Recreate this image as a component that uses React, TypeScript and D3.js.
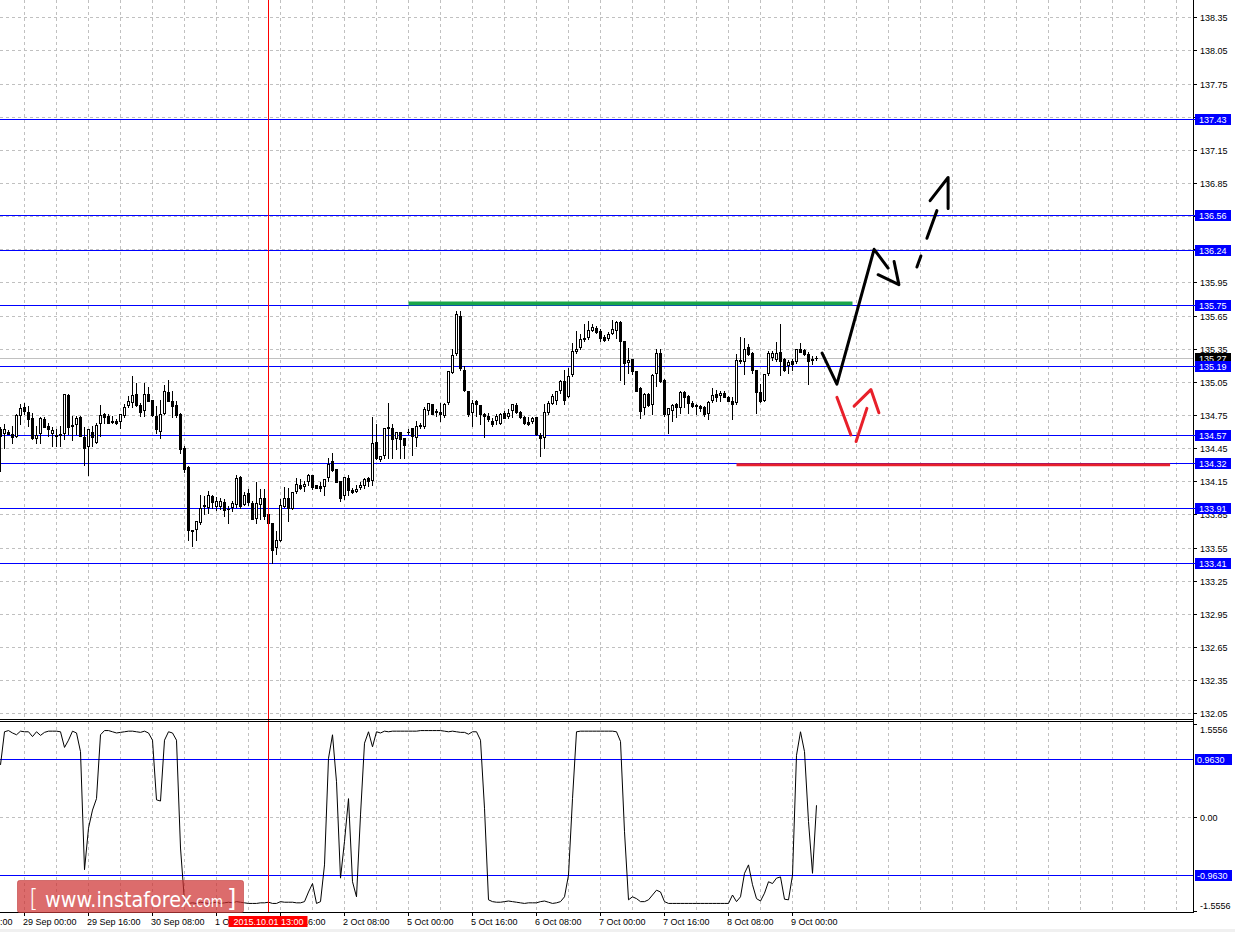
import React from 'react';
import * as d3 from 'd3';

// ---------- DATA (USDJPY-like H1 bars) ----------
const OPEN = [
  134.62, 134.58, 134.60, 134.58, 134.55, 134.74, 134.82, 134.78, 134.72, 134.53,
  134.58, 134.71, 134.65, 134.58, 134.57, 134.57, 134.58, 134.93, 134.66, 134.66,
  134.73, 134.55, 134.46, 134.60, 134.50, 134.67, 134.76, 134.74, 134.70, 134.70,
  134.69, 134.74, 134.83, 134.86, 134.94, 134.84, 134.79, 134.94, 134.89, 134.74,
  134.60, 134.76, 134.96, 134.88, 134.84, 134.76, 134.45, 134.28, 133.71, 133.71,
  133.77, 133.92, 133.91, 134.02, 133.92, 133.92, 133.96, 133.90, 133.91, 133.94,
  134.19, 133.94, 134.04, 133.95, 133.81, 133.94, 134.00, 133.85, 133.77, 133.55,
  133.61, 133.92, 134.00, 133.90, 134.05, 134.12, 134.10, 134.14, 134.21, 134.12,
  134.11, 134.10, 134.18, 134.33, 134.26, 134.15, 134.02, 134.18, 134.07, 134.05,
  134.09, 134.11, 134.18, 134.15, 134.51, 134.34, 134.38, 134.64, 134.63, 134.53,
  134.60, 134.54, 134.60, 134.63, 134.54, 134.64, 134.64, 134.79, 134.85, 134.77,
  134.78, 134.74, 134.86, 135.13, 135.30, 135.65, 135.16, 134.97, 134.77, 134.88,
  134.84, 134.76, 134.74, 134.70, 134.70, 134.67, 134.77, 134.73, 134.79, 134.84,
  134.78, 134.73, 134.69, 134.69, 134.73, 134.57, 134.54, 134.77, 134.85, 134.88,
  134.97, 135.06, 134.91, 135.11, 135.32, 135.36, 135.43, 135.45, 135.51, 135.54,
  135.51, 135.46, 135.44, 135.48, 135.51, 135.59, 135.42, 135.22, 135.26, 135.15,
  134.99, 134.81, 134.94, 134.84, 135.12, 135.31, 135.07, 134.75, 134.79, 134.85,
  134.81, 134.96, 134.92, 134.86, 134.82, 134.83, 134.82, 134.76, 134.88, 134.94,
  134.92, 134.95, 134.91, 134.88, 134.86, 135.24, 135.23, 135.37, 135.31, 135.16,
  134.96, 134.88, 135.12, 135.27, 135.25, 135.32, 135.26, 135.19, 135.24, 135.23,
  135.35, 135.34, 135.30, 135.25, 135.27,
];
const HIGH = [
  134.64, 134.67, 134.61, 134.65, 134.76, 134.85, 134.86, 134.83, 134.77, 134.65,
  134.73, 134.73, 134.68, 134.64, 134.62, 134.65, 134.94, 134.94, 134.74, 134.74,
  134.74, 134.64, 134.62, 134.65, 134.68, 134.84, 134.77, 134.76, 134.74, 134.71,
  134.76, 134.85, 134.92, 135.10, 135.04, 134.86, 135.04, 135.00, 134.89, 134.83,
  134.89, 135.02, 135.07, 134.97, 134.88, 134.77, 134.47, 134.29, 133.71, 133.79,
  134.03, 134.02, 134.06, 134.03, 134.01, 134.00, 133.99, 133.93, 133.97, 134.21,
  134.20, 134.05, 134.08, 133.97, 134.14, 134.08, 134.08, 133.86, 133.77, 133.70,
  133.99, 134.10, 134.09, 134.05, 134.18, 134.17, 134.15, 134.22, 134.21, 134.12,
  134.14, 134.17, 134.36, 134.41, 134.26, 134.15, 134.19, 134.21, 134.09, 134.12,
  134.14, 134.18, 134.19, 134.73, 134.67, 134.38, 134.63, 134.86, 134.67, 134.60,
  134.60, 134.54, 134.62, 134.63, 134.70, 134.68, 134.82, 134.86, 134.85, 134.80,
  134.86, 134.86, 135.15, 135.35, 135.69, 135.69, 135.19, 134.97, 134.89, 134.89,
  134.84, 134.77, 134.77, 134.72, 134.76, 134.77, 134.79, 134.80, 134.85, 134.86,
  134.79, 134.74, 134.73, 134.73, 134.73, 134.59, 134.85, 134.88, 134.94, 134.97,
  135.07, 135.16, 135.18, 135.40, 135.51, 135.48, 135.57, 135.60, 135.57, 135.56,
  135.53, 135.47, 135.50, 135.61, 135.60, 135.60, 135.42, 135.36, 135.26, 135.15,
  135.00, 134.95, 134.95, 135.12, 135.35, 135.35, 135.08, 134.81, 134.85, 134.86,
  134.97, 134.97, 134.93, 134.88, 134.85, 134.84, 134.83, 134.88, 134.99, 134.98,
  134.97, 134.97, 134.92, 134.91, 135.30, 135.46, 135.45, 135.39, 135.32, 135.16,
  135.03, 135.12, 135.33, 135.33, 135.41, 135.57, 135.27, 135.25, 135.26, 135.35,
  135.40, 135.35, 135.32, 135.28, 135.28,
];
const LOW = [
  134.24, 134.45, 134.58, 134.50, 134.55, 134.67, 134.76, 134.65, 134.53, 134.50,
  134.50, 134.64, 134.56, 134.47, 134.47, 134.47, 134.53, 134.58, 134.52, 134.58,
  134.56, 134.30, 134.21, 134.47, 134.50, 134.56, 134.68, 134.68, 134.68, 134.67,
  134.63, 134.73, 134.82, 134.82, 134.83, 134.74, 134.74, 134.88, 134.74, 134.59,
  134.54, 134.76, 134.88, 134.73, 134.73, 134.41, 134.23, 133.62, 133.56, 133.62,
  133.76, 133.85, 133.86, 133.91, 133.89, 133.90, 133.84, 133.77, 133.88, 133.92,
  133.91, 133.94, 133.94, 133.81, 133.77, 133.81, 133.81, 133.77, 133.41, 133.49,
  133.61, 133.92, 133.79, 133.90, 134.04, 134.08, 134.06, 134.12, 134.08, 134.09,
  134.06, 134.03, 134.15, 134.24, 134.14, 133.97, 133.99, 134.03, 134.04, 134.05,
  134.08, 134.09, 134.11, 134.12, 134.35, 134.33, 134.36, 134.36, 134.36, 134.44,
  134.36, 134.36, 134.58, 134.39, 134.47, 134.63, 134.63, 134.76, 134.76, 134.74,
  134.70, 134.73, 134.85, 135.13, 135.29, 135.16, 134.97, 134.74, 134.65, 134.74,
  134.67, 134.55, 134.70, 134.65, 134.67, 134.67, 134.72, 134.72, 134.73, 134.77,
  134.72, 134.67, 134.66, 134.68, 134.57, 134.38, 134.45, 134.76, 134.85, 134.85,
  134.95, 134.85, 134.91, 135.10, 135.31, 135.35, 135.42, 135.44, 135.51, 135.49,
  135.42, 135.42, 135.43, 135.48, 135.45, 135.07, 135.03, 135.13, 135.12, 134.97,
  134.72, 134.76, 134.83, 134.76, 135.01, 135.05, 134.74, 134.59, 134.70, 134.73,
  134.77, 134.82, 134.77, 134.82, 134.76, 134.79, 134.74, 134.71, 134.87, 134.88,
  134.88, 134.91, 134.88, 134.71, 134.85, 135.22, 135.12, 135.29, 135.13, 134.77,
  134.87, 134.88, 135.11, 135.25, 135.24, 135.11, 135.15, 135.13, 135.16, 135.22,
  135.32, 135.29, 135.03, 135.21, 135.25,
];
const CLOSE = [
  134.56, 134.62, 134.58, 134.55, 134.75, 134.81, 134.79, 134.71, 134.54, 134.57,
  134.72, 134.64, 134.62, 134.61, 134.56, 134.58, 134.94, 134.64, 134.65, 134.72,
  134.56, 134.45, 134.62, 134.55, 134.66, 134.75, 134.73, 134.68, 134.69, 134.68,
  134.76, 134.82, 134.88, 134.93, 134.84, 134.78, 134.94, 134.88, 134.75, 134.62,
  134.76, 134.97, 134.88, 134.83, 134.75, 134.44, 134.26, 133.71, 133.70, 133.79,
  133.91, 133.94, 134.03, 133.96, 133.97, 133.97, 133.89, 133.90, 133.95, 134.18,
  133.93, 134.03, 133.96, 133.81, 133.95, 134.00, 133.84, 133.77, 133.53, 133.62,
  133.94, 134.00, 133.91, 134.05, 134.13, 134.09, 134.13, 134.21, 134.10, 134.09,
  134.09, 134.17, 134.31, 134.25, 134.14, 134.00, 134.19, 134.07, 134.05, 134.08,
  134.12, 134.17, 134.15, 134.50, 134.36, 134.38, 134.63, 134.63, 134.53, 134.60,
  134.53, 134.48, 134.60, 134.56, 134.65, 134.66, 134.80, 134.86, 134.76, 134.79,
  134.76, 134.85, 135.15, 135.29, 135.66, 135.18, 134.98, 134.76, 134.86, 134.85,
  134.76, 134.74, 134.71, 134.67, 134.74, 134.76, 134.72, 134.77, 134.85, 134.78,
  134.73, 134.68, 134.67, 134.72, 134.58, 134.54, 134.78, 134.86, 134.92, 134.97,
  135.06, 134.89, 135.10, 135.33, 135.35, 135.44, 135.45, 135.52, 135.55, 135.50,
  135.45, 135.43, 135.48, 135.53, 135.59, 135.42, 135.22, 135.25, 135.15, 134.97,
  134.79, 134.94, 134.84, 135.11, 135.31, 135.06, 134.76, 134.81, 134.84, 134.82,
  134.96, 134.91, 134.86, 134.83, 134.84, 134.81, 134.76, 134.87, 134.93, 134.91,
  134.95, 134.91, 134.88, 134.85, 135.25, 135.25, 135.35, 135.30, 135.16, 134.96,
  134.88, 135.12, 135.31, 135.31, 135.31, 135.24, 135.16, 135.23, 135.21, 135.35,
  135.32, 135.30, 135.24, 135.26, 135.27,
];
// oscillator (lower panel)
const OSC = [
  0.87, 1.42, 1.44, 1.40, 1.37, 1.43, 1.42, 1.42, 1.34, 1.42,
  1.36, 1.41, 1.43, 1.43, 1.43, 1.42, 1.16, 1.28, 1.43, 1.40,
  1.09, -0.87, -0.18, 0.12, 0.31, 1.37, 1.44, 1.44, 1.42, 1.40,
  1.41, 1.42, 1.43, 1.43, 1.42, 1.41, 1.43, 1.40, 1.28, 0.29,
  0.27, 1.28, 1.42, 1.40, 1.28, -0.51, -1.40, -1.43, -1.42, -1.43,
  -1.41, -1.42, -1.43, -1.42, -1.41, -1.43, -1.42, -1.41, -1.42, -1.40,
  -1.41, -1.42, -1.43, -1.43, -1.43, -1.42, -1.42, -1.41, -1.43, -1.43,
  -1.40, -1.41, -1.41, -1.41, -1.42, -1.42, -1.40, -1.24, -1.10, -1.43,
  -1.40, -0.79, 0.98, 1.37, 0.59, -1.01, -0.40, 0.31, -1.07, -1.32,
  0.04, 1.23, 1.42, 1.17, 1.42, 1.40, 1.43, 1.42, 1.43, 1.43,
  1.43, 1.43, 1.43, 1.43, 1.43, 1.44, 1.44, 1.44, 1.44, 1.44,
  1.44, 1.43, 1.42, 1.43, 1.42, 1.41, 1.41, 1.38, 1.42, 1.42,
  1.28, 0.15, -1.37, -1.40, -1.41, -1.41, -1.40, -1.39, -1.40, -1.41,
  -1.42, -1.43, -1.42, -1.42, -1.42, -1.40, -1.39, -1.41, -1.43, -1.42,
  -1.40, -1.32, -0.96, 0.31, 1.42, 1.43, 1.43, 1.43, 1.43, 1.43,
  1.43, 1.43, 1.43, 1.43, 1.42, 1.26, -0.24, -1.37, -1.32, -1.35,
  -1.40, -1.40, -1.37, -1.29, -1.21, -1.24, -1.40, -1.43, -1.43, -1.43,
  -1.43, -1.43, -1.43, -1.43, -1.43, -1.43, -1.43, -1.43, -1.43, -1.43,
  -1.43, -1.43, -1.43, -1.29, -1.40, -1.32, -0.93, -0.79, -1.12, -1.35,
  -1.39, -1.26, -1.07, -1.10, -1.01, -0.99, -1.36, -1.37, -0.96, 1.03,
  1.42, 1.09, -0.07, -0.93, 0.20,
];

const PRICE_TICKS = [
  138.35, 138.05, 137.75, 137.45, 137.15, 136.85, 136.55, 136.25, 135.95, 135.65, 135.35,
  135.05, 134.75, 134.45, 134.15, 133.85, 133.55, 133.25, 132.95, 132.65, 132.35, 132.05,
];
const LEVELS = [137.43, 136.56, 136.24, 135.75, 135.19, 134.57, 134.32, 133.91, 133.41];
const LAST_PRICE = 135.27;
const OSC_TICKS = [1.5556, 0, -1.5556];
const OSC_LEVELS = [0.963, -0.963];
const TIME_LABELS = [
  '28 Sep 08:00', '29 Sep 00:00', '29 Sep 16:00', '30 Sep 08:00', '1 Oct 00:00', '1 Oct 16:00',
  '2 Oct 08:00', '5 Oct 00:00', '5 Oct 16:00', '6 Oct 08:00', '7 Oct 00:00', '7 Oct 16:00',
  '8 Oct 08:00', '9 Oct 00:00',
];
const TIME_LABEL_BARS = [-10, 6, 22, 38, 54, 70, 86, 102, 118, 134, 150, 166, 182, 198];
const CURSOR_BAR = 67;
const CURSOR_LABEL = '2015.10.01 13:00';

// hand-drawn annotations, in (bar index, price)
const GREEN_SEG = [[102, 135.76], [213, 135.76]];
const RED_SEG = [[184, 134.30], [292.4, 134.30]];
const BLACK_STROKES = [
  [[205.4, 135.31], [209.1, 135.03], [218.4, 136.25], [221.9, 136.08]],
  [[219.4, 136.02], [224.6, 135.93], [223.4, 136.14]],
  [[229.1, 136.09], [230.1, 136.19]],
  [[231.6, 136.35], [234.1, 136.6]],
  [[232.4, 136.69], [236.9, 136.9], [236.9, 136.62]],
];
const RED_STROKES = [
  [[209.1, 134.91], [212.6, 134.57]],
  [[213.9, 134.51], [216.6, 134.81]],
  [[213.4, 134.83], [217.6, 134.98], [219.6, 134.77]],
];

// ---------- LAYOUT ----------
const W = 1235;
const H = 932;
const AX = 1193; // right axis x
const MAIN_BOTTOM = 719;
const OSC_TOP = 721;
const OSC_BOTTOM = 912;
const FONT = "'Liberation Sans', Arial, sans-serif";
const BLUE = '#0000ff';
const GRID = '#c0c0c0';

const x = d3.scaleLinear().domain([0, 1]).range([0.5, 4.5]);
const y = d3.scaleLinear().domain([132.05, 138.35]).range([713.3, 17.3]);
const yo = d3.scaleLinear().domain([-1.5556, 1.5556]).range([911, 723.6]);

const row = (v: number) => Math.round(v) + 0.5;

export default function App() {
  const gridBars = d3.range(6, 300, 8).filter((b) => x(b) < AX);
  const lineGen = d3.line<number[]>().x((d) => x(d[0])).y((d) => y(d[1]));
  const oscLine = d3
    .line<number>()
    .x((_, i) => x(i))
    .y((d) => yo(d));

  const candles = OPEN.map((o, i) => {
    const c = CLOSE[i];
    const col = Math.round(x(i) - 0.5);
    const hi = Math.round(y(HIGH[i]));
    const lo = Math.round(y(LOW[i]));
    const top = Math.round(y(Math.max(o, c)));
    const bot = Math.round(y(Math.min(o, c)));
    const bull = c > o;
    return (
      <g key={i}>
        <rect x={col} y={hi} width={1} height={Math.max(lo - hi + 1, 1)} fill="#000" />
        {bull && bot - top >= 2 ? (
          <rect x={col - 0.5} y={top + 0.5} width={2} height={bot - top - 1} fill="#fff" stroke="#000" strokeWidth={1} />
        ) : (
          <rect x={col - 1} y={top} width={3} height={Math.max(bot - top + 1, 1)} fill="#000" />
        )}
      </g>
    );
  });

  return (
    <svg
      width={W}
      height={H}
      style={{ position: 'absolute', left: 0, top: 0, display: 'block' }}
      fontFamily={FONT}
    >
      <defs>
        <clipPath id="mainClip">
          <rect x={0} y={0} width={AX} height={MAIN_BOTTOM} />
        </clipPath>
        <clipPath id="oscClip">
          <rect x={0} y={OSC_TOP + 1} width={AX} height={OSC_BOTTOM - OSC_TOP - 1} />
        </clipPath>
      </defs>
      <rect x={0} y={0} width={W} height={H} fill="#fff" />
      <rect x={0} y={929} width={W} height={3} fill="#f0f0f0" />

      {/* ---------- main panel ---------- */}
      <g clipPath="url(#mainClip)">
        {PRICE_TICKS.map((t) => (
          <line key={'hg' + t} x1={0} x2={AX} y1={row(y(t))} y2={row(y(t))} stroke={GRID} strokeDasharray="3,3" />
        ))}
        {gridBars.map((b) => (
          <line key={'vg' + b} x1={x(b)} x2={x(b)} y1={0} y2={MAIN_BOTTOM} stroke={GRID} strokeDasharray="3,3" />
        ))}
        <line x1={0} x2={AX} y1={row(y(LAST_PRICE))} y2={row(y(LAST_PRICE))} stroke="#c0c0c0" />
        {LEVELS.map((l) => (
          <line key={'lv' + l} x1={0} x2={AX} y1={row(y(l))} y2={row(y(l))} stroke={BLUE} />
        ))}
        {candles}
        <path d={lineGen(GREEN_SEG) || ''} stroke="#1aa64a" strokeWidth={4} fill="none" />
        <path d={lineGen(RED_SEG) || ''} stroke="#e8202a" strokeWidth={3} fill="none" />
        {BLACK_STROKES.map((s, k) => (
          <path key={'bs' + k} d={lineGen(s) || ''} stroke="#000" strokeWidth={3} fill="none" strokeLinecap="round" strokeLinejoin="round" />
        ))}
        {RED_STROKES.map((s, k) => (
          <path key={'rs' + k} d={lineGen(s) || ''} stroke="#e8202a" strokeWidth={3} fill="none" strokeLinecap="round" strokeLinejoin="round" />
        ))}
      </g>

      {/* ---------- oscillator panel ---------- */}
      <g clipPath="url(#oscClip)">
        <line x1={0} x2={AX} y1={row(yo(0))} y2={row(yo(0))} stroke={GRID} strokeDasharray="3,3" />
        {gridBars.map((b) => (
          <line key={'ovg' + b} x1={x(b)} x2={x(b)} y1={OSC_TOP} y2={OSC_BOTTOM} stroke={GRID} strokeDasharray="3,3" />
        ))}
        {OSC_LEVELS.map((l) => (
          <line key={'ol' + l} x1={0} x2={AX} y1={row(yo(l))} y2={row(yo(l))} stroke={BLUE} />
        ))}
        <path d={oscLine(OSC) || ''} stroke="#000" strokeWidth={1} fill="none" />
      </g>

      {/* cursor line */}
      <line x1={x(CURSOR_BAR)} x2={x(CURSOR_BAR)} y1={0} y2={OSC_BOTTOM} stroke="#ff0000" />

      {/* frames */}
      <line x1={0} x2={AX} y1={MAIN_BOTTOM + 0.5} y2={MAIN_BOTTOM + 0.5} stroke="#000" />
      <line x1={0} x2={AX + 1} y1={OSC_TOP + 0.5} y2={OSC_TOP + 0.5} stroke="#000" />
      <line x1={0} x2={AX + 1} y1={OSC_BOTTOM + 0.5} y2={OSC_BOTTOM + 0.5} stroke="#000" />
      <line x1={AX + 0.5} x2={AX + 0.5} y1={0} y2={OSC_BOTTOM + 1} stroke="#000" />

      {/* right price axis */}
      {PRICE_TICKS.map((t) => (
        <g key={'pt' + t}>
          <line x1={AX} x2={AX + 4} y1={row(y(t))} y2={row(y(t))} stroke="#000" />
          <text x={1200} y={Math.round(y(t)) + 3.5} fontSize={9} fill="#000">
            {t.toFixed(2)}
          </text>
        </g>
      ))}
      <g>
        <rect x={1195} y={Math.round(y(LAST_PRICE)) - 5} width={36} height={11} fill="#000" />
        <text x={1199} y={Math.round(y(LAST_PRICE)) + 3.5} fontSize={9} fill="#fff">
          {LAST_PRICE.toFixed(2)}
        </text>
      </g>
      {LEVELS.map((l) => (
        <g key={'lb' + l}>
          <line x1={AX} x2={1196} y1={row(y(l))} y2={row(y(l))} stroke={BLUE} />
          <rect x={1195} y={Math.round(y(l)) - 5} width={36} height={11} fill={BLUE} />
          <text x={1199} y={Math.round(y(l)) + 3.5} fontSize={9} fill="#fff">
            {l.toFixed(2)}
          </text>
        </g>
      ))}

      {/* oscillator axis */}
      {OSC_TICKS.map((t, k) => {
        const yy = k === 0 ? 729 : k === OSC_TICKS.length - 1 ? 905 : Math.round(yo(t));
        return (
          <g key={'ot' + t}>
            <line x1={AX} x2={AX + 4} y1={row(yo(t))} y2={row(yo(t))} stroke="#000" />
            <text x={1200} y={yy + 3.5} fontSize={9} fill="#000">
              {t === 0 ? '0.00' : t.toFixed(4)}
            </text>
          </g>
        );
      })}
      {OSC_LEVELS.map((l) => (
        <g key={'olb' + l}>
          <rect x={1195} y={Math.round(yo(l)) - 5} width={37} height={11} fill={BLUE} />
          <text x={1197} y={Math.round(yo(l)) + 3.5} fontSize={9} fill="#fff">
            {l.toFixed(4)}
          </text>
        </g>
      ))}

      {/* time axis */}
      {TIME_LABEL_BARS.map((b, k) => (
        <g key={'tl' + b}>
          <line x1={x(b)} x2={x(b)} y1={OSC_BOTTOM} y2={OSC_BOTTOM + 4} stroke="#000" />
          <text x={x(b) - 1.5} y={925} fontSize={9} fill="#000">
            {TIME_LABELS[k]}
          </text>
        </g>
      ))}
      <g>
        <rect x={x(CURSOR_BAR) - 40} y={916} width={79} height={11} fill="#ff0000" />
        <text x={x(CURSOR_BAR)} y={925} fontSize={9} fill="#fff" textAnchor="middle">
          {CURSOR_LABEL}
        </text>
      </g>

      {/* watermark */}
      <g>
        <rect x={17.5} y={880.5} width={226} height={32} rx={2} fill="rgb(205,45,45)" fillOpacity={0.7} stroke="rgb(190,60,60)" strokeOpacity={0.6} />
        <text x={29} y={907} fontSize={24} fill="#fff" fontFamily="'DejaVu Sans', sans-serif" fontWeight={300}>
          [
        </text>
        <text x={45} y={907} fontSize={22} fill="#fff" fontFamily="'DejaVu Sans', sans-serif" textLength={147} lengthAdjust="spacingAndGlyphs">
          www.instaforex
        </text>
        <text x={192} y={907} fontSize={16} fill="#fff" fontFamily="'DejaVu Sans', sans-serif" textLength={31} lengthAdjust="spacingAndGlyphs">
          .com
        </text>
        <text x={227} y={907} fontSize={24} fill="#fff" fontFamily="'DejaVu Sans', sans-serif">
          ]
        </text>
      </g>
    </svg>
  );
}
